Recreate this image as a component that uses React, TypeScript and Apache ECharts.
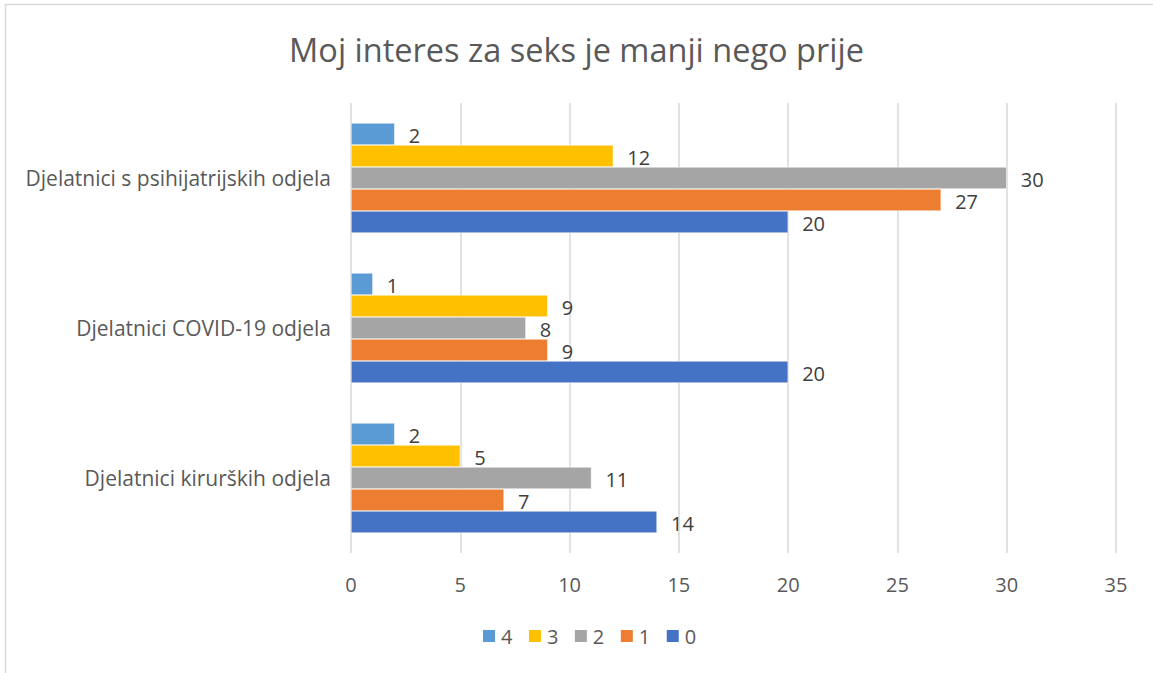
import React, { useEffect, useRef } from "react";
import * as echarts from "echarts";

const categories = [
  "Djelatnici kirurških odjela",
  "Djelatnici COVID-19 odjela",
  "Djelatnici s psihijatrijskih odjela",
];
// series listed top-to-bottom within each group
const seriesNames = ["4", "3", "2", "1", "0"];
const values4 = [2, 1, 2];
const values3 = [5, 9, 12];
const values2 = [11, 8, 30];
const values1 = [7, 9, 27];
const values0 = [14, 20, 20];
const seriesValues = [values4, values3, values2, values1, values0];
const colors = ["#5B9BD5", "#FFC000", "#A5A5A5", "#ED7D31", "#4472C4"];
const legendOrder = ["4", "3", "2", "1", "0"];
const title = "Moj interes za seks je manji nego prije";

const FONT = "'Open Sans', sans-serif";

export default function App() {
  const ref = useRef<HTMLDivElement>(null);
  useEffect(() => {
    if (!ref.current) return;
    const chart = echarts.init(ref.current, undefined, { renderer: "svg" });
    chart.setOption({
      animation: false,
      backgroundColor: "#ffffff",
      textStyle: { fontFamily: FONT },
      title: {
        text: title,
        left: "center",
        top: 28,
        textStyle: { fontFamily: FONT, fontSize: 32.5, fontWeight: "normal", color: "#595959" },
      },
      graphic: [
        {
          type: "rect",
          shape: { x: 5.5, y: 4.5, width: 1300, height: 800 },
          style: { fill: "none", stroke: "#d9d9d9", lineWidth: 1.5 },
          silent: true,
        },
      ],
      legend: {
        data: legendOrder,
        top: 626,
        left: 481,
        itemWidth: 14,
        itemHeight: 14,
        itemGap: 14.5,
        icon: "rect",
        padding: 0,
        textStyle: { fontFamily: FONT, fontSize: 20, color: "#595959" },
      },
      grid: { left: 351, right: 37, top: 103, bottom: 120, containLabel: false },
      xAxis: {
        type: "value",
        min: 0,
        max: 35,
        interval: 5,
        axisLine: { show: false },
        axisTick: { show: false },
        splitLine: { lineStyle: { color: "#d9d9d9", width: 1.5 } },
        axisLabel: { fontFamily: FONT, fontSize: 20, color: "#595959", margin: 21 },
      },
      yAxis: {
        type: "category",
        data: categories,
        axisLine: { show: false },
        axisTick: { show: false },
        axisLabel: { fontFamily: FONT, fontSize: 21, color: "#595959", margin: 20 },
      },
      series: seriesNames.map((name, i) => ({
        name,
        type: "bar",
        data: seriesValues[i],
        barWidth: 22,
        barGap: "0%",
        itemStyle: { color: colors[i], borderColor: "#ffffff", borderWidth: 0.5 },
        label: {
          show: true,
          position: "right",
          distance: 14,
          offset: [0, 1],
          fontFamily: FONT,
          fontSize: 20,
          color: "#404040",
        },
      })),
    });
    return () => chart.dispose();
  }, []);
  return (
    <div
      ref={ref}
      style={{ position: "fixed", left: 0, top: 0, width: 1153, height: 673 }}
    />
  );
}
